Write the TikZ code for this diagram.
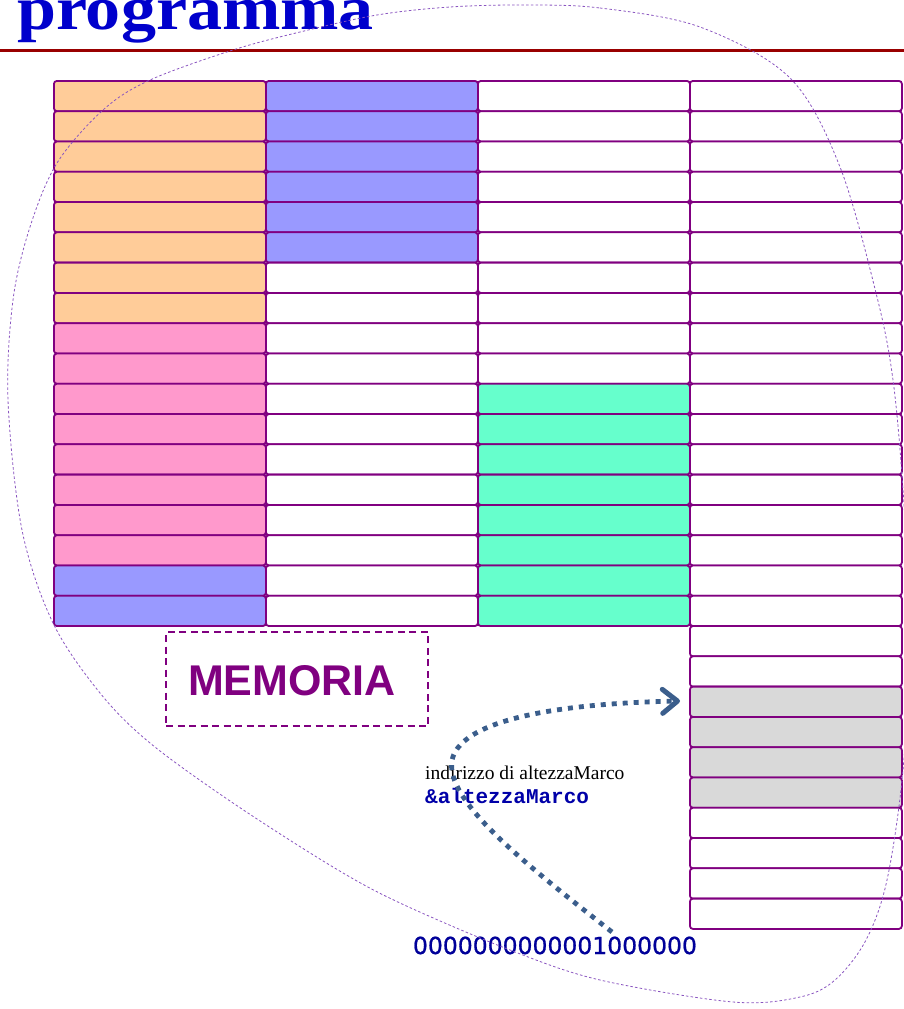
\documentclass[tikz,border=0pt]{standalone}
\usepackage{fontspec}
\setmainfont{Liberation Serif}
\newfontfamily\titlefont{Liberation Serif}
\newfontfamily\memfont{Liberation Sans}
\newfontfamily\codefont{Liberation Mono}
\newfontfamily\numfont[FakeBold=0.8]{DejaVu Sans}
\usetikzlibrary{arrows.meta}
\definecolor{cellborder}{HTML}{800080}
\definecolor{titleblue}{HTML}{0000CC}
\definecolor{titlered}{HTML}{990000}
\definecolor{corange}{HTML}{FFCC99}
\definecolor{cblue}{HTML}{9999FF}
\definecolor{cpink}{HTML}{FF99CC}
\definecolor{cgreen}{HTML}{66FFCC}
\definecolor{cgray}{HTML}{D9D9D9}
\definecolor{lassocol}{HTML}{8A55C0}
\definecolor{ptrblue}{HTML}{3B5E8C}
\definecolor{codeblue}{HTML}{0000A8}
\definecolor{numblue}{HTML}{000099}
\tikzset{
  cell/.style={draw=cellborder, line width=1.8pt, rounded corners=3pt,
    minimum width=212pt, minimum height=30.286pt, inner sep=0pt,
    anchor=north west, fill=#1},
  cell/.default=white,
  lasso/.style={draw=lassocol, line width=0.8pt, dash pattern=on 2.5pt off 2.2pt},
  ptr/.style={draw=ptrblue, line width=4.8pt, dash pattern=on 5pt off 6pt,
    -{Straight Barb[length=15pt, width=24pt, line width=5pt, line cap=round, line join=round]}},
  membox/.style={draw=cellborder, line width=1.8pt, dash pattern=on 7pt off 4.5pt,
    minimum width=262pt, minimum height=94pt, inner sep=0pt}
}
\begin{document}
\begin{tikzpicture}[x=1pt,y=-1pt]
\useasboundingbox (0,0) rectangle (904,1009);
\clip (0,0) rectangle (904,1009);
% title
\node[anchor=base west, inner sep=0pt, text=titleblue,
  font=\titlefont\bfseries\fontsize{62}{62}\selectfont] (title) at (17,29) {\scalebox{1.13}[1]{programma}};
\coordinate (ruleL) at (0,50);
\coordinate (ruleR) at (904,50);
\draw[titlered, line width=3pt] (ruleL) -- (ruleR);
% column 1
\foreach \r in {0,...,7} \node[cell=corange] (c1-\r) at (53,{80+30.286*\r}) {};
\foreach \r in {8,...,15} \node[cell=cpink] (c1-\r) at (53,{80+30.286*\r}) {};
\foreach \r in {16,17} \node[cell=cblue] (c1-\r) at (53,{80+30.286*\r}) {};
% column 2
\foreach \r in {0,...,5} \node[cell=cblue] (c2-\r) at (265,{80+30.286*\r}) {};
\foreach \r in {6,...,17} \node[cell] (c2-\r) at (265,{80+30.286*\r}) {};
% column 3
\foreach \r in {0,...,9} \node[cell] (c3-\r) at (477,{80+30.286*\r}) {};
\foreach \r in {10,...,17} \node[cell=cgreen] (c3-\r) at (477,{80+30.286*\r}) {};
% column 4
\foreach \r in {0,...,19} \node[cell] (c4-\r) at (689,{80+30.286*\r}) {};
\foreach \r in {20,...,23} \node[cell=cgray] (c4-\r) at (689,{80+30.286*\r}) {};
\foreach \r in {24,...,27} \node[cell] (c4-\r) at (689,{80+30.286*\r}) {};
% memoria box
\node[membox] (mem) at (297,679) {};
\node[inner sep=0pt, anchor=base, text=cellborder,
  font=\memfont\bfseries\fontsize{43}{43}\selectfont] (memtext) at (292,695) {MEMORIA};
% labels
\node[anchor=base west, inner sep=0pt, font=\fontsize{19.5}{19.5}\selectfont] (lbl) at (425,779) {indirizzo di altezzaMarco};
\node[anchor=base west, inner sep=0pt, text=codeblue,
  font=\codefont\bfseries\fontsize{21}{21}\selectfont] (code) at (425,803) {\&altezzaMarco};
\node[anchor=base, inner sep=0pt, text=numblue,
  font=\numfont\fontsize{23.5}{23.5}\selectfont] (addr) at (555,954) {0000000000001000000};
% lasso
\draw[lasso] plot[smooth cycle, tension=0.55] coordinates {
  (525,5) (600,8) (700,27) (790,78) (840,167) (877,297) (893,380) (903,490)
  (910,630) (903,770) (887,880) (866,940) (835,980) (800,997) (733,1002)
  (600,980) (510,950) (400,903) (333,867) (233,803) (150,743) (100,693)
  (53,623) (22,530) (8,400) (13,300) (30,227) (57,163) (103,110) (150,80)
  (233,50) (300,32) (377,15) (450,7)};
% pointer arrow
\coordinate (astart) at (612,932);
\coordinate (aend) at (680,701);
\draw[ptr] (astart) .. controls (520,860) and (445,800) .. (452,760)
  .. controls (462,715) and (580,703) .. (aend);
\end{tikzpicture}
\end{document}
